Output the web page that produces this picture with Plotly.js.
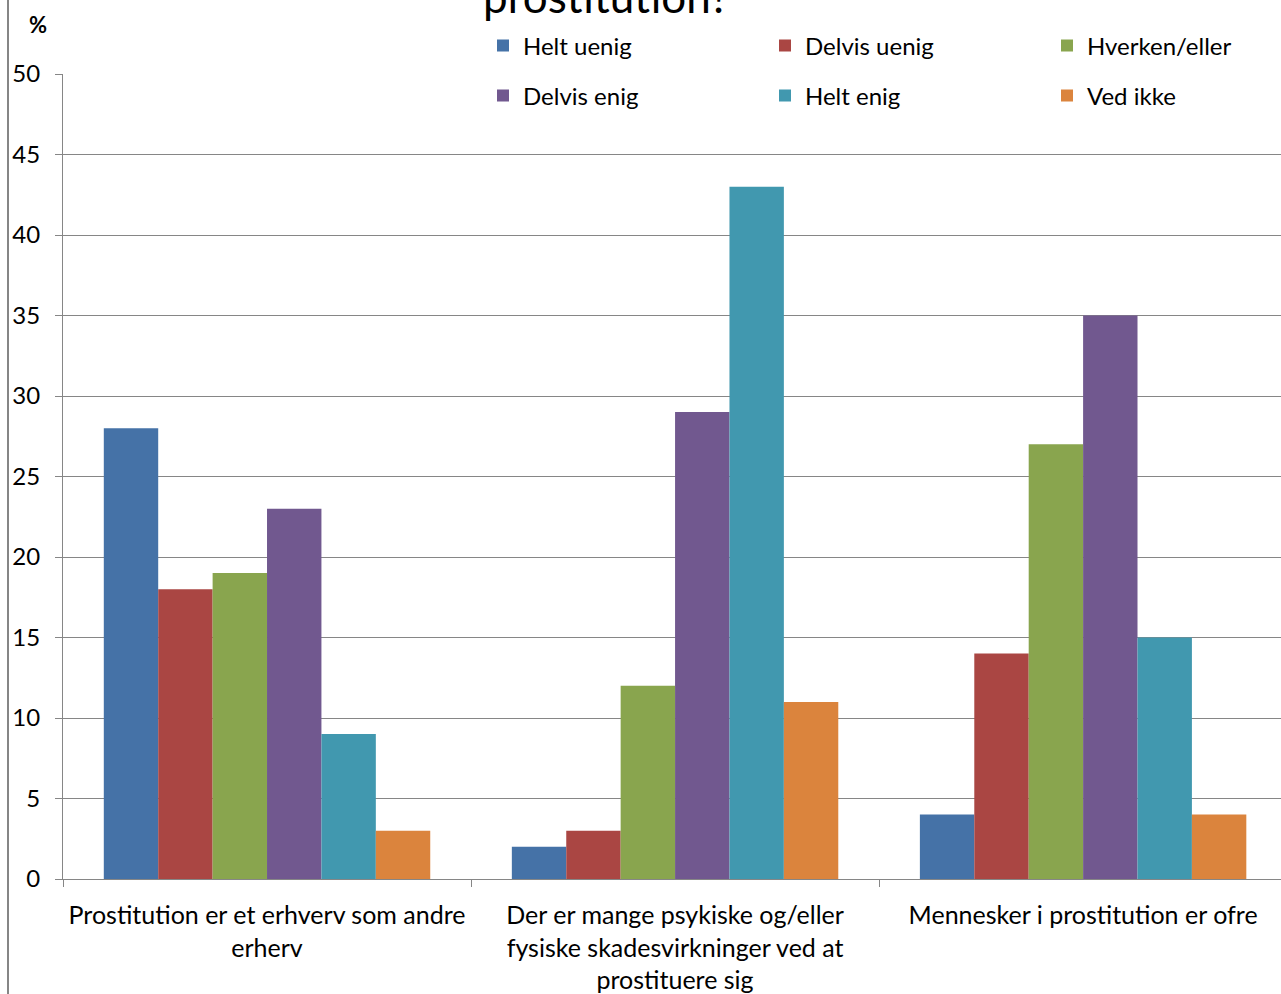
<!DOCTYPE html>
<html>
<head>
<meta charset="utf-8">
<script src="https://cdn.plot.ly/plotly-3.0.1.min.js"></script>
<style>html,body{margin:0;padding:0;background:#fff;}#chart{width:1281px;height:994px;}</style>
</head>
<body>
<div id="chart"></div>
<script>
const categories = [
  "Prostitution er et erhverv som andre<br>erherv",
  "Der er mange psykiske og/eller<br>fysiske skadesvirkninger ved at<br>prostituere sig",
  "Mennesker i prostitution er ofre"
];
const seriesNames = ["Helt uenig", "Delvis uenig", "Hverken/eller", "Delvis enig", "Helt enig", "Ved ikke"];
const helt_uenig   = [28, 2, 4];
const delvis_uenig = [18, 3, 14];
const hverken      = [19, 12, 27];
const delvis_enig  = [23, 29, 35];
const helt_enig    = [9, 43, 15];
const ved_ikke     = [3, 11, 4];
const seriesValues = [helt_uenig, delvis_uenig, hverken, delvis_enig, helt_enig, ved_ikke];
const colors = ["#4572A7", "#AA4643", "#89A54E", "#71588F", "#4198AF", "#DB843D"];
const yTicks = [0, 5, 10, 15, 20, 25, 30, 35, 40, 45, 50];

const FONT = "Lato, 'Open Sans', sans-serif";
const legendIds = ["legend", "legend2", "legend3", "legend4", "legend5", "legend6"];
const traces = seriesNames.map((n, i) => ({
  type: "bar",
  name: n,
  x: categories,
  y: seriesValues[i],
  marker: {color: colors[i], line: {width: 0}},
  legend: legendIds[i],
  hoverinfo: "none"
}));

const plotTop = 74, plotBottom = 879, plotH = plotBottom - plotTop;
const py = p => (plotBottom - p) / plotH;
const px = p => (p - 63) / 1218;

const legendCols = [483, 765, 1047];
const legendRows = [46, 96];

const layout = {
  width: 1281,
  height: 994,
  margin: {l: 63, r: 0, t: plotTop, b: 994 - plotBottom, pad: 0, autoexpand: false},
  paper_bgcolor: "#fff",
  plot_bgcolor: "#fff",
  font: {family: FONT, size: 22, color: "#000"},
  barmode: "group",
  bargap: 0.2,
  bargroupgap: 0,
  showlegend: true,
  xaxis: {
    type: "category",
    range: [-0.5, 2.485],
    tickson: "boundaries",
    ticks: "outside",
    ticklen: 7,
    tickcolor: "#868686",
    tickwidth: 1,
    tickangle: 0,
    automargin: false,
    showline: true,
    linecolor: "#868686",
    linewidth: 1,
    showgrid: false,
    ticklabelstandoff: 14,
    tickfont: {family: FONT, size: 25, color: "#000"},
    fixedrange: true
  },
  yaxis: {
    range: [0, 50],
    tickvals: yTicks,
    ticktext: yTicks.map(String),
    ticks: "outside",
    ticklen: 7,
    tickcolor: "#868686",
    automargin: false,
    showline: true,
    linecolor: "#868686",
    linewidth: 1,
    showgrid: true,
    gridcolor: "#868686",
    gridwidth: 1,
    zeroline: false,
    ticklabelstandoff: 10,
    tickfont: {family: FONT, size: 24, color: "#000"},
    fixedrange: true
  },
  shapes: [
    {type: "line", xref: "paper", yref: "paper", x0: px(8), x1: px(8), y0: py(0), y1: py(994),
     line: {color: "#868686", width: 2}}
  ],
  annotations: [
    {text: "prostitution?", xref: "paper", yref: "paper", x: px(606), y: py(24),
     xanchor: "center", yanchor: "bottom", showarrow: false,
     font: {family: FONT, size: 44, color: "#000"}},
    {text: "<b>%</b>", xref: "paper", yref: "paper", x: px(38), y: py(24),
     xanchor: "center", yanchor: "middle", showarrow: false,
     font: {family: FONT, size: 22, color: "#000"}}
  ]
};

legendIds.forEach((id, i) => {
  layout[id] = {
    orientation: "h",
    xanchor: "left",
    yanchor: "middle",
    x: px(legendCols[i % 3]),
    y: py(legendRows[Math.floor(i / 3)]),
    bgcolor: "rgba(0,0,0,0)",
    font: {family: FONT, size: 24, color: "#000"},
    itemclick: false,
    itemdoubleclick: false
  };
});

Plotly.newPlot("chart", traces, layout, {displayModeBar: false, staticPlot: true});
</script>
</body>
</html>
